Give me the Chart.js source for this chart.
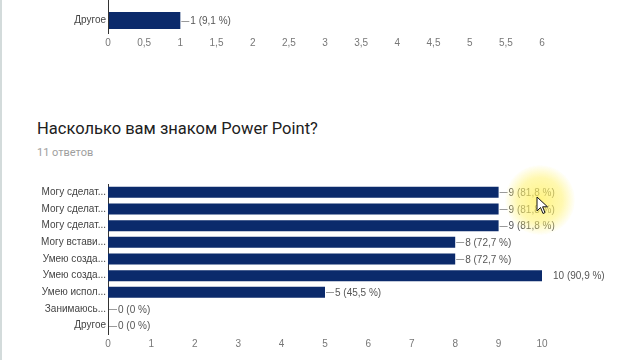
<!DOCTYPE html>
<html>
<head>
<meta charset="utf-8">
<script src="https://cdn.jsdelivr.net/npm/chart.js@4.4.1/dist/chart.umd.min.js"></script>
<style>
  html, body { margin:0; padding:0; background:#fff; width:640px; height:360px; overflow:hidden; }
  #edge { position:absolute; left:0; top:0; width:2px; height:360px; background:#d3dbdb; }
  #c1 { position:absolute; left:0; top:0; }
  #c2 { position:absolute; left:0; top:170px; }
  #title { position:absolute; left:37px; top:119px; font-family:Roboto, "Liberation Sans", sans-serif; font-size:16.5px; color:#212121; white-space:nowrap; }
  #sub { position:absolute; left:37px; top:146px; font-family:Roboto, "Liberation Sans", sans-serif; font-size:11px; color:#9e9e9e; white-space:nowrap; }
  #glow { position:absolute; left:505px; top:165px; width:70px; height:70px; border-radius:50%;
          background:radial-gradient(circle, rgba(255,240,90,0.75) 0%, rgba(255,242,110,0.55) 45%, rgba(255,245,150,0) 72%); pointer-events:none; }
  #cursor { position:absolute; left:536px; top:196px; }
</style>
</head>
<body>
<div id="edge"></div>
<canvas id="c1" width="640" height="55"></canvas>
<div id="title">Насколько вам знаком Power Point?</div>
<div id="sub">11 ответов</div>
<canvas id="c2" width="640" height="186"></canvas>
<div id="glow"></div>
<svg id="cursor" width="14" height="20" viewBox="0 0 14 20"><path d="M1 1 L1 15 L4.5 11.5 L7 17.5 L9 16.6 L6.6 10.8 L11.5 10.8 Z" fill="#fff" stroke="#111" stroke-width="1"/></svg>
<script>
// ---- data ----
const topCategories = ["Другое"];
const topValues = [1];
const topPercents = ["9,1 %"];
const topTicks = [0, 0.5, 1, 1.5, 2, 2.5, 3, 3.5, 4, 4.5, 5, 5.5, 6];
const topTickLabels = ["0", "0,5", "1", "1,5", "2", "2,5", "3", "3,5", "4", "4,5", "5", "5,5", "6"];

const categories = ["Могу сделат...", "Могу сделат...", "Могу сделат...", "Могу встави...", "Умею созда...", "Умею созда...", "Умею испол...", "Занимаюсь...", "Другое"];
const values = [9, 9, 9, 8, 8, 10, 5, 0, 0];
const percents = ["81,8 %", "81,8 %", "81,8 %", "72,7 %", "72,7 %", "90,9 %", "45,5 %", "0 %", "0 %"];
const mainTicks = [0, 1, 2, 3, 4, 5, 6, 7, 8, 9, 10];
const mainTickLabels = ["0", "1", "2", "3", "4", "5", "6", "7", "8", "9", "10"];

const BAR = "#0b2a6b";
const FONT = "'Liberation Sans', Arial, sans-serif";
const FS = 10;

function labelPlugin(pcts, maxVal) {
  return {
    id: 'vlabels',
    afterDatasetsDraw(chart) {
      const ctx = chart.ctx;
      const meta = chart.getDatasetMeta(0);
      const data = chart.data.datasets[0].data;
      ctx.save();
      ctx.font = FS + "px " + FONT;
      ctx.textBaseline = "middle";
      ctx.textAlign = "left";
      meta.data.forEach((el, i) => {
        const x = el.x, y = el.y;
        let tx;
        if (data[i] < maxVal) {
          ctx.strokeStyle = "#9a9a9a";
          ctx.lineWidth = 1;
          ctx.beginPath();
          ctx.moveTo(x + 1, Math.round(y) + 0.5);
          ctx.lineTo(x + 9, Math.round(y) + 0.5);
          ctx.stroke();
          tx = x + 10;
        } else {
          tx = x + 11;
        }
        ctx.fillStyle = "#555";
        ctx.fillText(data[i] + " (" + pcts[i] + ")", tx, y + 1);
      });
      ctx.restore();
    }
  };
}

const topAxisExt = {
  id: 'axisExt',
  afterDraw(chart) {
    const ctx = chart.ctx, a = chart.chartArea;
    ctx.save();
    ctx.strokeStyle = "#333";
    ctx.lineWidth = 1;
    ctx.beginPath();
    ctx.moveTo(Math.round(a.left) + 0.5, 0);
    ctx.lineTo(Math.round(a.left) + 0.5, a.bottom);
    ctx.stroke();
    ctx.restore();
  }
};

function makeChart(id, cats, vals, pcts, ticks, tickLabels, maxVal, padTop, barPct, extra) {
  return new Chart(document.getElementById(id), {
    type: 'bar',
    data: { labels: cats, datasets: [{ data: vals, backgroundColor: BAR, borderWidth: 0,
            categoryPercentage: 1, barPercentage: barPct }] },
    options: {
      indexAxis: 'y',
      responsive: false,
      animation: false,
      layout: { padding: { top: padTop, right: 98, left: 0, bottom: 0 } },
      plugins: { legend: { display: false }, tooltip: { enabled: false } },
      scales: {
        x: {
          min: 0, max: maxVal,
          grid: { display: false, drawTicks: false, tickLength: 0 },
          border: { display: false },
          afterBuildTicks(s) { s.ticks = ticks.map(v => ({ value: v })); },
          afterFit(s) { s.height = 22; },
          ticks: {
            padding: 4,
            color: "#777",
            font: { family: FONT, size: FS },
            callback: (v, i) => tickLabels[i],
            maxRotation: 0, autoSkip: false
          }
        },
        y: {
          grid: { display: false, drawTicks: false, tickLength: 0 },
          border: { display: true, color: "#333", width: 1 },
          afterFit(s) { s.width = 108; },
          ticks: { padding: 2, color: "#444", font: { family: FONT, size: FS } }
        }
      }
    },
    plugins: [labelPlugin(pcts, maxVal)].concat(extra)
  });
}

makeChart('c1', topCategories, topValues, topPercents, topTicks, topTickLabels, 6, 8, 0.68, [topAxisExt]);
makeChart('c2', categories, values, percents, mainTicks, mainTickLabels, 10, 14, 0.66, []);
</script>
</body>
</html>
